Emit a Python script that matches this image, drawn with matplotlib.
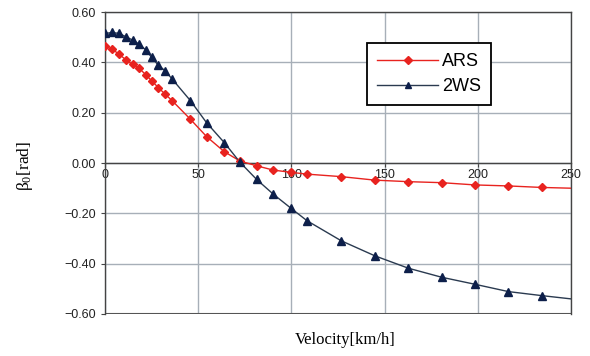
import matplotlib
matplotlib.use("Agg")
import matplotlib.pyplot as plt
from matplotlib.lines import Line2D

plt.rcParams["mathtext.fontset"] = "custom"
plt.rcParams["mathtext.rm"] = "Liberation Serif"
plt.rcParams["mathtext.it"] = "Liberation Serif"

velocity = [0, 3.9, 7.7, 11.2, 14.8, 18.4, 22, 25, 28.6, 32.2, 36, 45.8, 54.5, 64, 72.4,
            81.3, 90.3, 99.8, 108.3, 126.7, 144.8, 162.7, 180.6, 198.5, 216.4, 234.3]
ars = [0.465, 0.452, 0.432, 0.41, 0.392, 0.376, 0.35, 0.327, 0.30, 0.274, 0.248, 0.174, 0.105,
       0.045, 0.008, -0.011, -0.028, -0.037, -0.044, -0.054, -0.068, -0.074, -0.078, -0.087,
       -0.091, -0.097]
ws2 = [0.515, 0.519, 0.515, 0.502, 0.489, 0.472, 0.449, 0.42, 0.389, 0.367, 0.334, 0.248, 0.16,
       0.081, 0.003, -0.065, -0.124, -0.18, -0.229, -0.309, -0.369, -0.418, -0.454, -0.482,
       -0.511, -0.527]
line_x = [234.3, 250]
ars_end = [-0.097, -0.100]
ws2_end = [-0.527, -0.540]

xticks = [0, 50, 100, 150, 200, 250]
yticks = [0.60, 0.40, 0.20, 0.00, -0.20, -0.40, -0.60]

fig = plt.figure(figsize=(5.9, 3.56), dpi=100)
ax = fig.add_axes([0.178, 0.118, 0.79, 0.848])

red = "#e8231f"
navy = "#0d1f4a"
navyline = "#2a3a50"

ax.plot(velocity + line_x[1:], ars + ars_end[1:], color=red, lw=1.0, zorder=3)
ax.plot(velocity, ars, linestyle="none", marker="D", ms=4.2, color=red, zorder=4)
ax.plot(velocity + line_x[1:], ws2 + ws2_end[1:], color=navyline, lw=1.0, zorder=3)
ax.plot(velocity, ws2, linestyle="none", marker="^", ms=5.5, color=navy, zorder=4)

ax.set_xlim(0, 250)
ax.set_ylim(-0.60, 0.60)
ax.set_xticks(xticks)
ax.set_yticks(yticks)
ax.set_yticklabels([f"{v:.2f}".replace("-", "\u2212") for v in yticks])
ax.grid(True, color="#a7afb8", lw=1.0)

for s in ax.spines.values():
    s.set_color("#444444")
    s.set_linewidth(1.0)
ax.spines["bottom"].set_position(("data", 0))
ax.axhline(-0.60, color="#555555", lw=1.5, zorder=2)
ax.tick_params(axis="both", length=3, color="#444444", labelsize=9, labelcolor="#222222",
               direction="out")
ax.tick_params(axis="x", pad=1)
for t in ax.get_xticklabels() + ax.get_yticklabels():
    t.set_fontfamily("Liberation Sans")

handles = [Line2D([0], [0], color=red, lw=1.0, marker="D", ms=4),
           Line2D([0], [0], color=navyline, lw=1.0, marker="^", ms=5, mfc=navy, mec=navy)]
leg = ax.legend(handles, ["ARS", "2WS"], loc="upper left", bbox_to_anchor=(0.562, 0.897),
                fancybox=False, edgecolor="black", framealpha=1, handlelength=3.4,
                prop={"family": "Liberation Sans", "size": 13}, borderpad=0.55,
                labelspacing=0.45, handletextpad=0.2, borderaxespad=0)
leg.get_frame().set_linewidth(1.3)

fig.text(0.043, 0.535, "β$_0$[rad]", rotation=90, ha="center", va="center",
         family="Liberation Serif", fontsize=12.5)
fig.text(0.585, 0.045, "Velocity[km/h]", ha="center", va="center",
         family="Liberation Serif", fontsize=12)

fig.savefig("out.png", dpi=100)
